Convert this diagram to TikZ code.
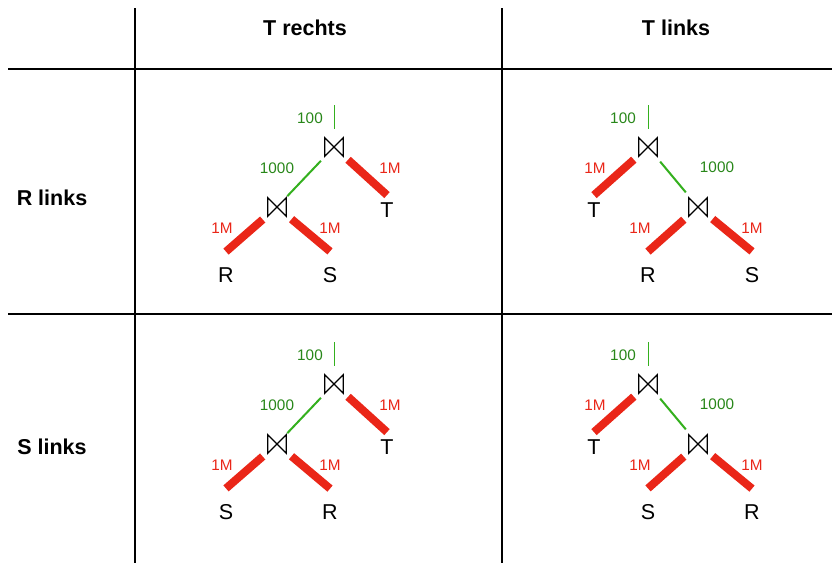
\documentclass[tikz,border=0pt]{standalone}
\usepackage{fontspec}
\setmainfont{Liberation Sans}
\definecolor{redc}{RGB}{234,38,24}
\definecolor{greenl}{RGB}{52,176,30}
\definecolor{greent}{RGB}{40,135,25}
\tikzset{
  gridline/.style={line width=1.5pt, black},
  head/.style={font=\fontsize{21.5}{25}\selectfont\bfseries, inner sep=0pt},
  leaf/.style={font=\fontsize{21.5}{25}\selectfont, inner sep=0pt, outer xsep=0pt},
  lowleaf/.style={leaf, outer ysep=16pt},
  highleaf/.style={leaf, outer ysep=7.5pt},
  num/.style={font=\fontsize{15.3}{18}\selectfont, inner sep=0pt},
  rnum/.style={num, text=redc},
  gnum/.style={num, text=greent},
  joinnode/.style={minimum width=18pt, minimum height=18pt, inner sep=0pt},
  relline/.style={line width=8pt, draw=redc, shorten <=19pt},
  interline/.style={line width=2pt, draw=greenl, shorten <=19pt},
  outline/.style={line width=1pt, draw=greenl, shorten >=18pt},
  joinmark/.style={line width=1.3pt, line join=miter, black}
}
\newcommand\drawjoin[1]{\draw[joinmark] (#1.south west) -- (#1.north east) -- (#1.south east) -- (#1.north west) -- cycle;}
% tree with T on the right: #1 prefix, #2 y offset, #3 left leaf, #4 right leaf
\newcommand\treeright[4]{%
\begin{scope}[shift={(0,#2)}]
  \coordinate (#1top) at (334,105);
  \node[joinnode] (#1j) at (334,147) {};
  \node[joinnode] (#1k) at (277,207) {};
  \node[highleaf] (#1T) at (387,210) {T};
  \node[lowleaf] (#1a) at (226,275) {#3};
  \node[lowleaf] (#1b) at (330,275) {#4};
  \node[gnum] (#1n100) at (310,118) {100};
  \node[gnum] (#1n1000) at (277,168) {1000};
  \node[rnum] (#1mT) at (390,168) {1M};
  \node[rnum] (#1ma) at (222,228) {1M};
  \node[rnum] (#1mb) at (330,228) {1M};
  \draw[outline] (#1top) -- (#1j.center);
  \draw[interline, shorten >=15pt] (#1j.center) -- (#1k.center);
  \draw[relline] (#1j.center) -- (#1T.north);
  \draw[relline] (#1k.center) -- (#1a.north);
  \draw[relline] (#1k.center) -- (#1b.north);
  \drawjoin{#1j}
  \drawjoin{#1k}
\end{scope}}
% tree with T on the left
\newcommand\treeleft[4]{%
\begin{scope}[shift={(0,#2)}]
  \coordinate (#1top) at (648,105);
  \node[joinnode] (#1j) at (648,147) {};
  \node[joinnode] (#1k) at (698,207) {};
  \node[highleaf] (#1T) at (594,210) {T};
  \node[lowleaf] (#1a) at (648,275) {#3};
  \node[lowleaf] (#1b) at (752,275) {#4};
  \node[gnum] (#1n100) at (623,118) {100};
  \node[gnum] (#1n1000) at (717,167) {1000};
  \node[rnum] (#1mT) at (595,168) {1M};
  \node[rnum] (#1ma) at (640,228) {1M};
  \node[rnum] (#1mb) at (752,228) {1M};
  \draw[outline] (#1top) -- (#1j.center);
  \draw[interline, shorten >=19pt] (#1j.center) -- (#1k.center);
  \draw[relline] (#1j.center) -- (#1T.north);
  \draw[relline] (#1k.center) -- (#1a.north);
  \draw[relline] (#1k.center) -- (#1b.north);
  \drawjoin{#1j}
  \drawjoin{#1k}
\end{scope}}
\begin{document}
\begin{tikzpicture}[x=1pt,y=-1pt]
\useasboundingbox[fill=white] (0,0) rectangle (832,563);
% table grid
\draw[gridline] (135,8) -- (135,563);
\draw[gridline] (502,8) -- (502,563);
\draw[gridline] (8,69) -- (832,69);
\draw[gridline] (8,314) -- (832,314);
% headers
\node[head] (hTr) at (305,28) {T rechts};
\node[head] (hTl) at (676,28) {T links};
\node[head] (hRl) at (52,198) {R links};
\node[head] (hSl) at (52,447) {S links};
% trees
\treeright{a}{0}{R}{S}
\treeleft{b}{0}{R}{S}
\treeright{c}{237}{S}{R}
\treeleft{d}{237}{S}{R}
\end{tikzpicture}
\end{document}
